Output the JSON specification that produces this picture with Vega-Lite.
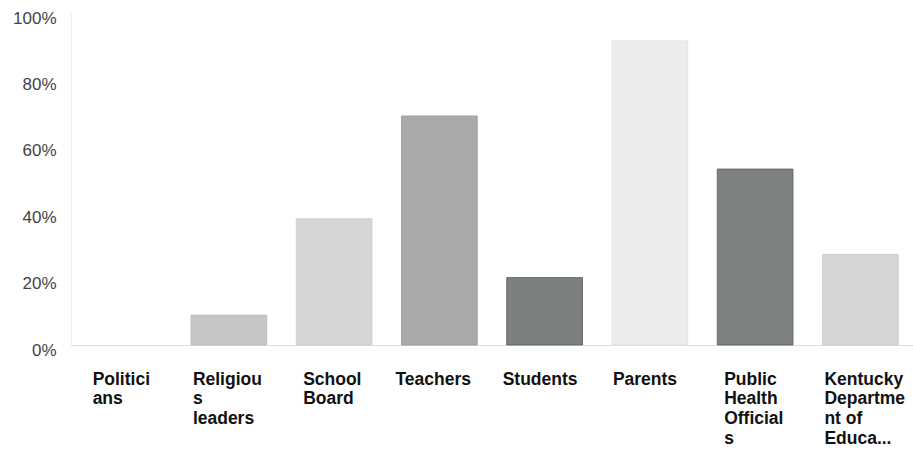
{
  "$schema": "https://vega.github.io/schema/vega-lite/v6.json",
  "width": 842,
  "height": 332,
  "autosize": {"type": "none"},
  "padding": {"left": 71, "top": 13, "right": 0, "bottom": 110},
  "background": "white",
  "config": {"view": {"stroke": null}},
  "data": {
    "values": [
      {"group": "Politicians", "share": 0},
      {"group": "Religious leaders", "share": 9},
      {"group": "School Board", "share": 38},
      {"group": "Teachers", "share": 69},
      {"group": "Students", "share": 20.3},
      {"group": "Parents", "share": 91.6},
      {"group": "Public Health Officials", "share": 53},
      {"group": "Kentucky Department of Education", "share": 27.3}
    ]
  },
  "mark": {"type": "bar", "strokeWidth": 1, "strokeOpacity": 0.8},
  "encoding": {
    "x": {
      "field": "group",
      "type": "nominal",
      "sort": null,
      "scale": {"paddingInner": 0.28, "paddingOuter": 0.14},
      "axis": {
        "title": null,
        "labelAngle": 0,
        "labelAlign": "left",
        "labelBaseline": "top",
        "labelPadding": 25,
        "labelFont": "Liberation Sans",
        "labelFontWeight": "bold",
        "labelFontSize": 17.5,
        "labelLineHeight": 19.7,
        "labelColor": "#111111",
        "labelLimit": 200,
        "labelOffset": {
          "condition": [
            {"test": "datum.value == 'Politicians'", "value": -31},
            {"test": "datum.value == 'Religious leaders'", "value": -36},
            {"test": "datum.value == 'School Board'", "value": -31},
            {"test": "datum.value == 'Teachers'", "value": -44},
            {"test": "datum.value == 'Students'", "value": -42},
            {"test": "datum.value == 'Parents'", "value": -37},
            {"test": "datum.value == 'Public Health Officials'", "value": -31}
          ],
          "value": -36
        },
        "ticks": false,
        "domain": true,
        "domainColor": "#dddddd",
        "labelExpr": "datum.value == 'Politicians' ? ['Politici','ans'] : datum.value == 'Religious leaders' ? ['Religiou','s','leaders'] : datum.value == 'School Board' ? ['School','Board'] : datum.value == 'Public Health Officials' ? ['Public','Health','Official','s'] : datum.value == 'Kentucky Department of Education' ? ['Kentucky','Departme','nt of','Educa...'] : datum.value"
      }
    },
    "y": {
      "field": "share",
      "type": "quantitative",
      "scale": {"domain": [0, 100], "nice": false},
      "axis": {
        "title": null,
        "values": [0, 20, 40, 60, 80, 100],
        "labelExpr": "datum.value + '%'",
        "grid": false,
        "ticks": false,
        "domain": true,
        "domainColor": "#eeeeee",
        "labelFont": "Liberation Sans",
        "labelFontSize": 17,
        "labelColor": "#444444",
        "labelPadding": 15,
        "labelOffset": 5
      }
    },
    "color": {
      "field": "group",
      "type": "nominal",
      "legend": null,
      "scale": {
        "domain": ["Politicians", "Religious leaders", "School Board", "Teachers", "Students", "Parents", "Public Health Officials", "Kentucky Department of Education"],
        "range": ["transparent", "#c6c6c6", "#d6d6d6", "#a9abaa", "#7c807e", "#ececee", "#7d827f", "#d5d5d5"]
      }
    },
    "stroke": {
      "field": "group",
      "type": "nominal",
      "legend": null,
      "scale": {
        "domain": ["Politicians", "Religious leaders", "School Board", "Teachers", "Students", "Parents", "Public Health Officials", "Kentucky Department of Education"],
        "range": ["transparent", "#bbbbbb", "#cccccc", "#9a9c9b", "#555a58", "#e2e2e4", "#5a5f5c", "#cacaca"]
      }
    }
  }
}
